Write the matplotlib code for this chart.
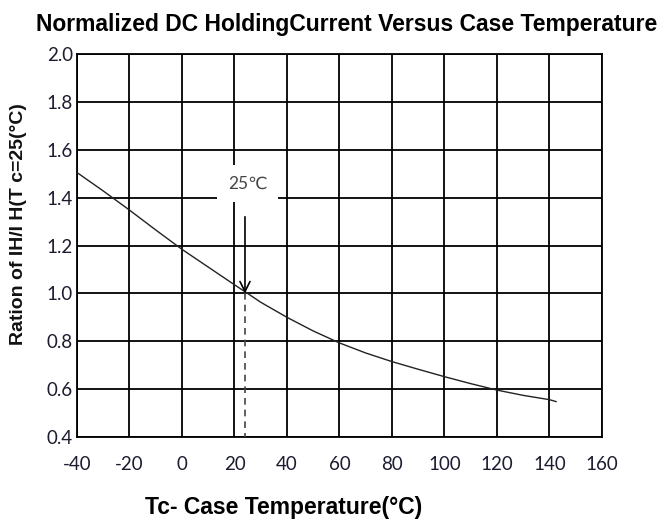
import numpy as np
import matplotlib
matplotlib.use("Agg")
import matplotlib.pyplot as plt

# values
temp = [-40, -30, -20, -10, 0, 10, 20, 25, 30, 40, 50, 60, 70, 80, 90,
        100, 110, 120, 130, 140, 142.5]
ratio = [1.505, 1.428, 1.348, 1.265, 1.184, 1.11, 1.036, 1.0, 0.963, 0.9,
         0.843, 0.793, 0.751, 0.715, 0.683, 0.652, 0.623, 0.596, 0.574, 0.556,
         0.548]
xticks = [-40, -20, 0, 20, 40, 60, 80, 100, 120, 140, 160]
yticks = [0.4, 0.6, 0.8, 1.0, 1.2, 1.4, 1.6, 1.8, 2.0]
ref_temp = 24
ref_label = "25℃"

tick_color = "#1c1c30"

fig = plt.figure(figsize=(6.7, 5.22), dpi=100)
ax = fig.add_axes([0.1149, 0.1628, 0.7836, 0.7337])

ax.set_xlim(-40, 160)
ax.set_ylim(0.4, 2.0)
ax.set_xticks(xticks)
ax.set_yticks(yticks)
ax.set_xticklabels([str(t) for t in xticks])
ax.set_yticklabels(["%.1f" % v for v in yticks])
ax.tick_params(length=0, labelsize=13.5, colors=tick_color)
ax.tick_params(axis="x", pad=14)
ax.tick_params(axis="y", pad=3)
for lab in ax.get_xticklabels() + ax.get_yticklabels():
    lab.set_family(["Lato", "DejaVu Sans"])
ax.grid(True, color="black", linewidth=1.3, zorder=0)
for sp in ax.spines.values():
    sp.set_linewidth(1.3)
    sp.set_zorder(1)

ax.plot(temp, ratio, color="#222222", linewidth=1.0, zorder=3)

# reference marker at 25 C
ax.text(ref_temp + 1, 1.46, ref_label, ha="center", va="center", fontsize=12.5,
        color="#444444", family=["Lato", "DejaVu Sans"], zorder=4,
        bbox=dict(boxstyle="square,pad=0.6", fc="white", ec="none"))
ax.annotate("", xy=(ref_temp, 1.0), xytext=(ref_temp, 1.32),
            arrowprops=dict(arrowstyle="->", color="black", lw=1.2,
                            mutation_scale=18, shrinkA=0, shrinkB=0),
            zorder=4)
ax.plot([ref_temp, ref_temp], [1.0, 0.4], color="#444444", linewidth=1.2,
        linestyle=(0, (4, 3)), zorder=3)

fig.text(0.518, 0.954, "Normalized DC HoldingCurrent Versus Case Temperature",
         ha="center", va="center", fontsize=16.5, fontweight="bold",
         family=["Liberation Sans", "DejaVu Sans"])
fig.text(0.027, 0.571, "Ration of IH/I H(T c=25(°C)", rotation=90,
         ha="center", va="center", fontsize=14, fontweight="bold",
         color="#111111", family=["Liberation Sans", "DejaVu Sans"])
fig.text(0.424, 0.027, "Tc- Case Temperature(°C)", ha="center", va="center",
         fontsize=16.5, fontweight="bold", family=["Liberation Sans", "DejaVu Sans"])

fig.savefig("out.png", dpi=100)
